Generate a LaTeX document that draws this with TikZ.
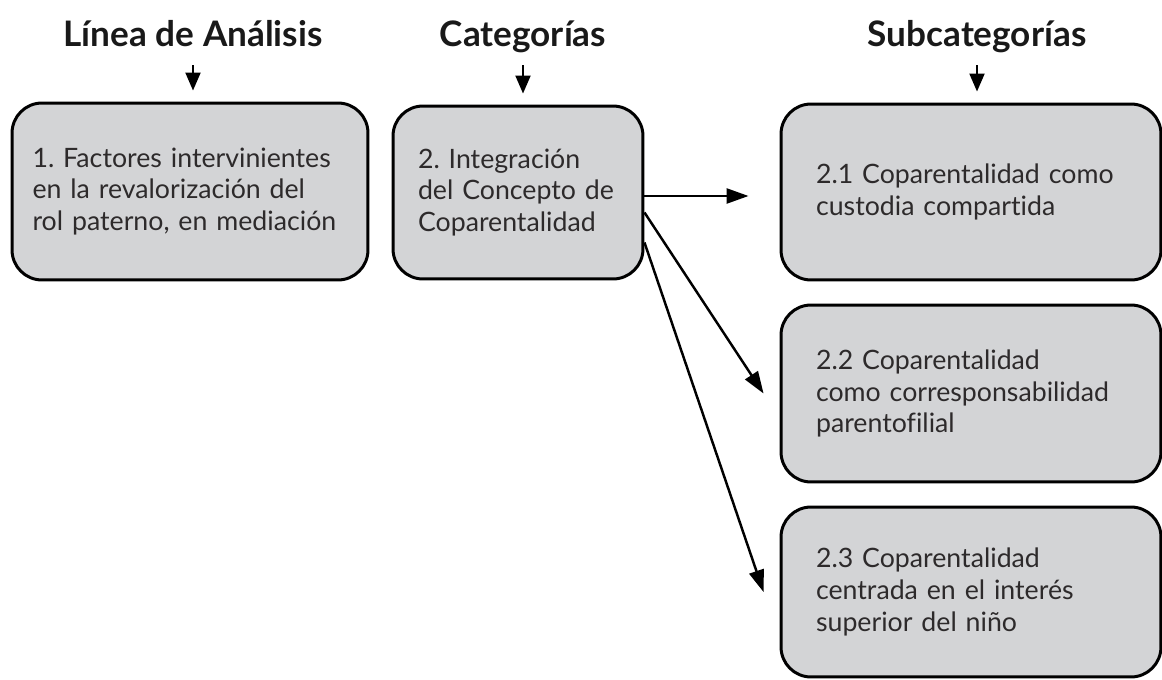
\documentclass[tikz,border=0pt]{standalone}
\usepackage{fontspec}
\setmainfont{Lato}[Ligatures=NoCommon]
\usetikzlibrary{arrows.meta,calc,positioning}
\definecolor{boxgray}{RGB}{211,212,214}
\definecolor{inkgray}{RGB}{45,42,43}

\tikzset{
  caja/.style={draw=black, fill=boxgray, line width=1.7pt, rounded corners=0.6cm,
    inner sep=0pt, align=left, text=inkgray, font=\fontsize{15.2}{18}\selectfont},
  titulo/.style={inner sep=0pt, anchor=base, text depth=0pt, text=black!90,
    font=\fontsize{20}{24}\selectfont\bfseries},
  flechat/.style={line width=1.2pt, -{Triangle[length=0.36cm,width=0.3cm]},
    shorten <=0.36cm, shorten >=0.22cm},
  flecha/.style={line width=1.4pt, -{Triangle[length=0.44cm,width=0.3cm]}}
}

\begin{document}
\frenchspacing\hyphenpenalty=10000
\begin{tikzpicture}[x=0.02cm, y=-0.02cm]
\useasboundingbox (0,0) rectangle (1162,679);
% titulos
\node[titulo] (tLinea) at (193,47) {Línea de Análisis};
\node[titulo] (tCat) at (523,47) {Categorías};
\node[titulo] (tSub) at (977,47) {Subcategorías};
% cajas
\node[caja, minimum width=7.12cm, minimum height=3.54cm, text width=6.3cm] (c1) at (190,191.5)
  {1. Factores intervinientes\\en la revalorización del\\rol paterno, en mediación};
\node[caja, minimum width=5cm, minimum height=3.46cm, text width=4cm] (c2) at (518,192.5)
  {2. Integración\\del Concepto de\\Coparentalidad};
\node[caja, minimum width=7.6cm, minimum height=3.52cm, text width=6.2cm] (c21) at (971,192)
  {2.1 Coparentalidad como\\custodia compartida};
\node[caja, minimum width=7.6cm, minimum height=3.54cm, text width=6.2cm] (c22) at (971,393.5)
  {2.2 Coparentalidad\\como corresponsabilidad\\parentofilial};
\node[caja, minimum width=7.6cm, minimum height=3.4cm, text width=6.2cm] (c23) at (971,592)
  {2.3 Coparentalidad\\centrada en el interés\\superior del niño};
% flechas de titulos
\draw[flechat] (tLinea.south) -- (tLinea.south |- c1.north);
\draw[flechat] (tCat.south) -- (tCat.south |- c2.north);
\draw[flechat] (tSub.south) -- (tSub.south |- c21.north);
% flechas a subcategorias
\draw[flecha, shorten >=0.62cm] ([yshift=-0.07cm]c2.east) -- ([yshift=-0.07cm]c2.east -| c21.west);
\draw[flecha] ([yshift=-0.4cm]c2.east) -- ([xshift=-0.32cm]c22.west);
\draw[flecha] ([yshift=-1cm]c2.east) -- ([xshift=-0.32cm]c23.west);
\end{tikzpicture}
\end{document}
